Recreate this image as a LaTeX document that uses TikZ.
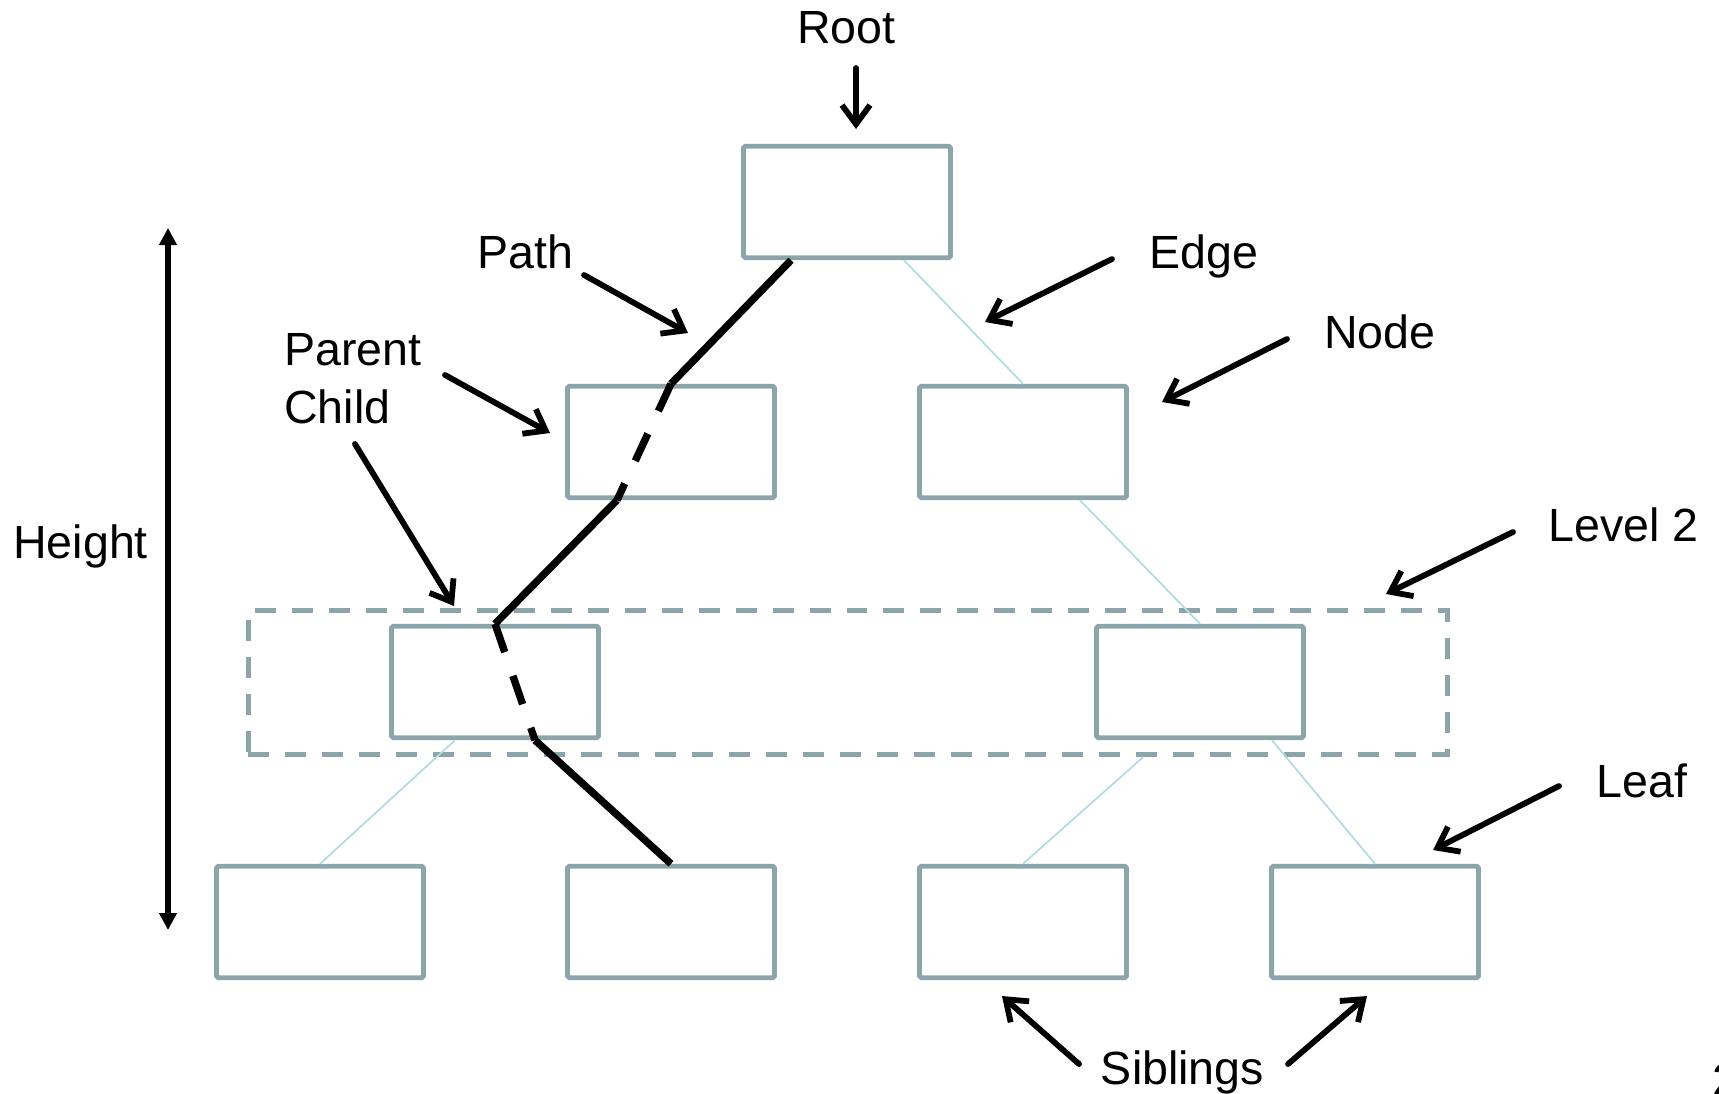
\documentclass[tikz,border=0pt]{standalone}
\usepackage{fontspec}
\setmainfont{Liberation Sans}
\usetikzlibrary{positioning}
\usetikzlibrary{arrows.meta}
\usetikzlibrary{calc}

\definecolor{boxgray}{RGB}{140,165,168}
\definecolor{edgeblue}{RGB}{178,220,225}

\begin{document}
\begin{tikzpicture}[x=0.02cm,y=-0.02cm]
\tikzset{treebox/.style={draw=boxgray, line width=2.8pt, rounded corners=1pt, minimum width=4.14cm, minimum height=2.23cm, inner sep=0pt}}
\tikzset{levelbox/.style={draw=boxgray, line width=2.8pt, dash pattern=on 0.42cm off 0.32cm, minimum width=24cm, minimum height=2.87cm, inner sep=0pt}}
\tikzset{treeedge/.style={draw=edgeblue, line width=1pt}}
\tikzset{pathline/.style={line width=4.2pt, line join=round}}
\tikzset{pathdash/.style={line width=4.2pt, dash pattern=on 0.6cm off 0.5cm}}
\tikzset{pointer/.style={-{Straight Barb[length=0.38cm,width=0.56cm]}, line width=3.3pt, line cap=round, line join=round}}
\tikzset{lbl/.style={font=\fontsize{26.5}{32}\selectfont, inner sep=0pt, anchor=base west}}
\useasboundingbox (0,0) rectangle (1719,1093);

% level 2 frame
\node[levelbox] (level) at (848,682.5) {};

% tree
\node[treebox] (root) at (847,202) {};
\node[treebox] (l) at (671,442) {};
\node[treebox] (r) at (1023,442) {};
\node[treebox] (ll) at (495,682) {};
\node[treebox] (rr) at (1200,682) {};
\foreach \n/\x in {lll/320,llr/671,rrl/1023,rrr/1375} {
\node[treebox] (\n) at (\x,922) {};
}

\draw[treeedge] ($(root.south)+(57,0)$) -- (r.north);
\draw[treeedge] ($(r.south)+(57,0)$) -- (rr.north);
\draw[treeedge] ($(ll.south)+(-40,0)$) -- (lll.north);
\draw[treeedge] ($(rr.south)+(-57,17)$) -- (rrl.north);
\draw[treeedge] ($(rr.south)+(72,0)$) -- (rrr.north);

% path
\coordinate (p0) at ($(root.south)+(-56,0)$);
\coordinate (p1) at ($(l.south)+(-54,0)$);
\coordinate (p2) at ($(ll.south)+(40,0)$);
\draw[pathline] (p0) -- (l.north);
\draw[pathdash] (l.north) -- (p1);
\draw[pathline] (p1) -- (ll.north);
\draw[pathdash] (ll.north) -- (p2);
\draw[pathline] (p2) -- (llr.north);

% labels
\path (797,43) node[lbl] (rootlbl) {Root};
\path (477,268.6) node[lbl] (pathlbl) {Path};
\path (1149,268.6) node[lbl] (edgelbl) {Edge};
\path (1324,348.6) node[lbl] (nodelbl) {Node};
\path (284,365) node[lbl] (parentlbl) {Parent};
\path (284,423) node[lbl] (childlbl) {Child};
\path (13,558) node[lbl] (heightlbl) {Height};
\path (1548,541.5) node[lbl] (levellbl) {Level 2};
\path (1596,797) node[lbl] (leaflbl) {Leaf};
\path (1100.6,1084) node[lbl] (siblbl) {Siblings};
\path (1712,1096) node[lbl] (pagelbl) {2};

% pointers
\coordinate (rootfrom) at (856,68);   \coordinate (rootto) at (856,129);
\coordinate (pathfrom) at (584,275);  \coordinate (pathto) at (688,333);
\coordinate (edgefrom) at (1112,259); \coordinate (edgeto) at (985,322);
\coordinate (nodefrom) at (1287,339); \coordinate (nodeto) at (1162,402);
\coordinate (parfrom) at (445,375);   \coordinate (parto) at (550,433);
\coordinate (chfrom) at (355,444);    \coordinate (chto) at (454,606);
\coordinate (levfrom) at (1513,532);  \coordinate (levto) at (1386,594);
\coordinate (leaffrom) at (1559,786); \coordinate (leafto) at (1433,850);
\coordinate (sibfromA) at (1079,1064); \coordinate (sibtoA) at (1002,996);
\coordinate (sibfromB) at (1288,1064); \coordinate (sibtoB) at (1367,996);
\draw (rootfrom) edge[pointer] (rootto);
\draw (pathfrom) edge[pointer] (pathto);
\draw (edgefrom) edge[pointer] (edgeto);
\draw (nodefrom) edge[pointer] (nodeto);
\draw (parfrom) edge[pointer] (parto);
\draw (chfrom) edge[pointer] (chto);
\draw (levfrom) edge[pointer] (levto);
\draw (leaffrom) edge[pointer] (leafto);
\draw (sibfromA) edge[pointer] (sibtoA);
\draw (sibfromB) edge[pointer] (sibtoB);

\coordinate (htop) at (168,228);
\coordinate (hbot) at (168,930);
\draw (htop) edge[{Triangle[length=0.34cm,width=0.34cm]}-{Triangle[length=0.34cm,width=0.34cm]}, line width=3.2pt] (hbot);

\end{tikzpicture}
\end{document}
